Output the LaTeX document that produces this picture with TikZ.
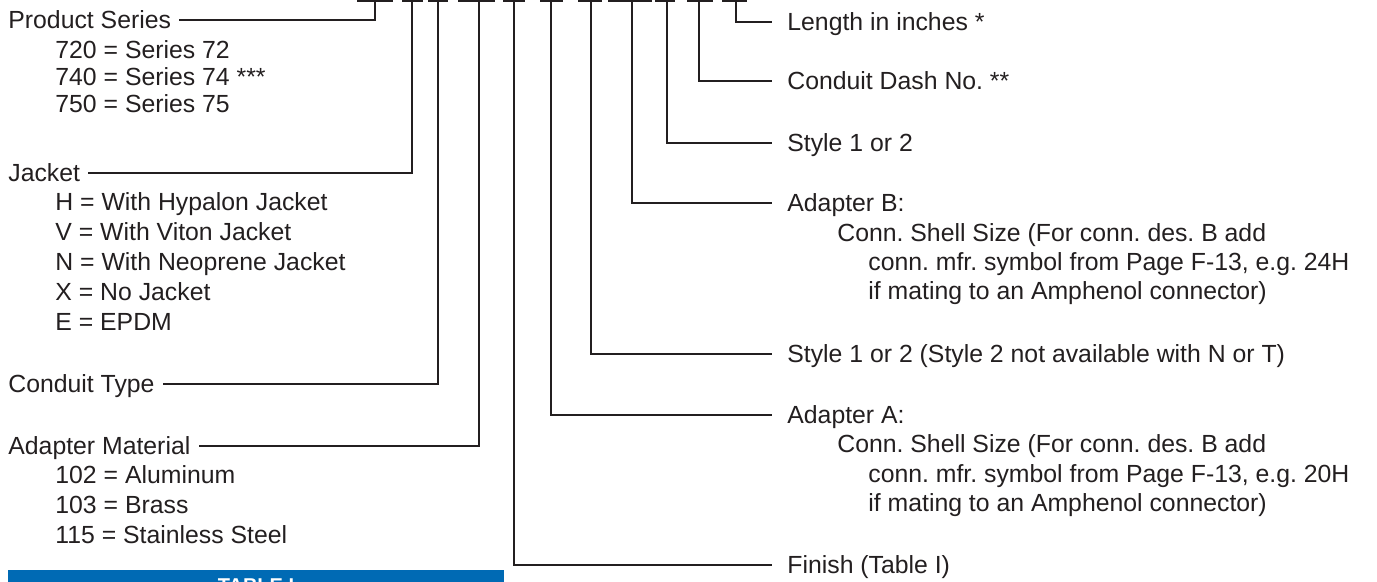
\documentclass[tikz,border=0pt]{standalone}
\usepackage{fontspec}
\setmainfont{Liberation Sans}
\usepackage{tikz}
\definecolor{tblblue}{RGB}{0,106,180}
\definecolor{ink}{RGB}{35,31,32}
\frenchspacing

\begin{document}
\begin{tikzpicture}[x=0.5pt,y=-0.5pt,
  lead/.style={line width=1.2pt,color=ink},
  txt/.style={anchor=west,inner ysep=0pt,text height=8.9pt,text depth=0pt,
    font=\fontsize{12.4}{15}\selectfont,text=ink},
  lbl/.style={txt,inner xsep=4pt},
  rlbl/.style={txt,inner xsep=7.5pt}]
\useasboundingbox (0,0) rectangle (1377,582);

% blanks of the part number
\foreach \a/\b/\c [count=\i] in {357/393/375,402/423/412,428/448/438,458/495/479,
  503/525/514,540/563/551,578/602/591,608/652/632,655/675/667,687/713/699,722/747/736}{
  \draw[lead] (\a,1) -- (\b,1);
  \coordinate (t\i) at (\c,1);
}

% left side
\node[lbl] (prod) at (0,20) {Product Series};
\node[lbl] (p720) at (47,50) {720 = Series 72};
\node[lbl] (p740) at (47,77) {740 = Series 74 ***};
\node[lbl] (p750) at (47,104) {750 = Series 75};

\node[lbl] (jack) at (0,173) {Jacket};
\node[lbl] (jH) at (47,202) {H = With Hypalon Jacket};
\node[lbl] (jV) at (47,232) {V = With Viton Jacket};
\node[lbl] (jN) at (47,262) {N = With Neoprene Jacket};
\node[lbl] (jX) at (47,292) {X = No Jacket};
\node[lbl] (jE) at (47,322) {E = EPDM};

\node[lbl] (ctype) at (0,384) {Conduit Type};

\node[lbl] (amat) at (0,446) {Adapter Material};
\node[lbl] (m102) at (47,475) {102 = Aluminum};
\node[lbl] (m103) at (47,505) {103 = Brass};
\node[lbl] (m115) at (47,535) {115 = Stainless Steel};

\fill[tblblue] (8,570) rectangle (504,610);
\node[anchor=north,inner sep=0pt,text=white,font=\bfseries\fontsize{10}{12}\selectfont]
  (tbl) at (256,578) {TABLE I};

% right side
\node[rlbl] (len) at (772,22) {Length in inches *};
\node[rlbl] (cdash) at (772,81) {Conduit Dash No. **};
\node[rlbl] (sty2) at (772,143) {Style 1 or 2};
\node[rlbl] (adB) at (772,203) {Adapter B:};
\node[lbl] (adB1) at (829,233) {Conn. Shell Size (For conn. des. B add};
\node[lbl] (adB2) at (860,262) {conn. mfr. symbol from Page F-13, e.g. 24H};
\node[lbl] (adB3) at (860,291) {if mating to an Amphenol connector)};
\node[rlbl] (sty1) at (772,354) {Style 1 or 2 (Style 2 not available with N or T)};
\node[rlbl] (adA) at (772,415) {Adapter A:};
\node[lbl] (adA1) at (829,444) {Conn. Shell Size (For conn. des. B add};
\node[lbl] (adA2) at (860,474) {conn. mfr. symbol from Page F-13, e.g. 20H};
\node[lbl] (adA3) at (860,503) {if mating to an Amphenol connector)};
\node[rlbl] (fin) at (772,565) {Finish (Table I)};

% leaders
\draw[lead] (t1) |- (prod.east);
\draw[lead] (t2) |- (jack.east);
\draw[lead] (t3) |- (ctype.east);
\draw[lead] (t4) |- (amat.east);
\draw[lead] (t5) |- (fin.west);
\draw[lead] (t6) |- (adA.west);
\draw[lead] (t7) |- (sty1.west);
\draw[lead] (t8) |- (adB.west);
\draw[lead] (t9) |- (sty2.west);
\draw[lead] (t10) |- (cdash.west);
\draw[lead] (t11) |- (len.west);
\end{tikzpicture}
\end{document}
